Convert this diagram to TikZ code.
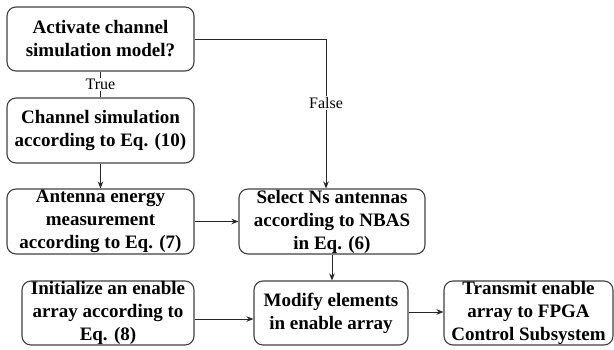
\documentclass[tikz,border=0pt]{standalone}
\usepackage{fontspec}
\setmainfont{Liberation Serif}
\usetikzlibrary{arrows.meta,calc}
\begin{document}
\begin{tikzpicture}[x=1pt,y=-1pt,
  box/.style={draw=black!75, line width=1.1pt, rounded corners=9pt, inner sep=0pt,
    align=center, font=\fontsize{19}{23}\selectfont\bfseries},
  link/.style={line width=0.9pt, draw=black!85},
  arr/.style={link, -{Stealth[length=7pt,width=5.5pt]}},
  tag/.style={font=\fontsize{16}{18}\selectfont, fill=white, inner sep=1.5pt}]
\useasboundingbox (0,0) rectangle (614,350);

% process boxes
\node[box, minimum width=187pt, minimum height=64pt] (act) at (100.5,39)
  {Activate channel\\simulation model?};
\node[box, minimum width=187pt, minimum height=65pt] (sim) at (100.5,130.5)
  {Channel simulation\\according to Eq. (10)};
\node[box, minimum width=187pt, minimum height=65pt] (meas) at (100.5,221.5)
  {Antenna energy\\measurement\\according to Eq. (7)};
\node[box, minimum width=186pt, minimum height=65pt] (sel) at (332,221.5)
  {Select Ns antennas\\according to NBAS\\in Eq. (6)};
\node[box, minimum width=172pt, minimum height=64pt] (init) at (108,313)
  {Initialize an enable\\array according to\\Eq. (8)};
\node[box, minimum width=154pt, minimum height=64pt] (mod) at (331,313)
  {Modify elements\\in enable array};
\node[box, minimum width=169pt, minimum height=64pt] (tx) at (528.5,313)
  {Transmit enable\\array to FPGA\\Control Subsystem};

% connectors
\coordinate (fx) at (326,39);
\draw[link] (act) -- node[tag] {True} (sim);
\draw[arr] (act.east) -- (fx) -- node[tag, pos=0.43] {False} (fx |- sel.north);
\draw[arr] (sim) -- (meas);
\draw[arr] (meas) -- (sel);
\draw[arr] (sel) -- (sel |- mod.north);
\draw[arr] ($(init.east)+(0,6)$) -- ($(mod.west)+(0,6)$);
\draw[arr] ($(mod.east)+(0,-1)$) -- ($(tx.west)+(0,-1)$);
\end{tikzpicture}
\end{document}
